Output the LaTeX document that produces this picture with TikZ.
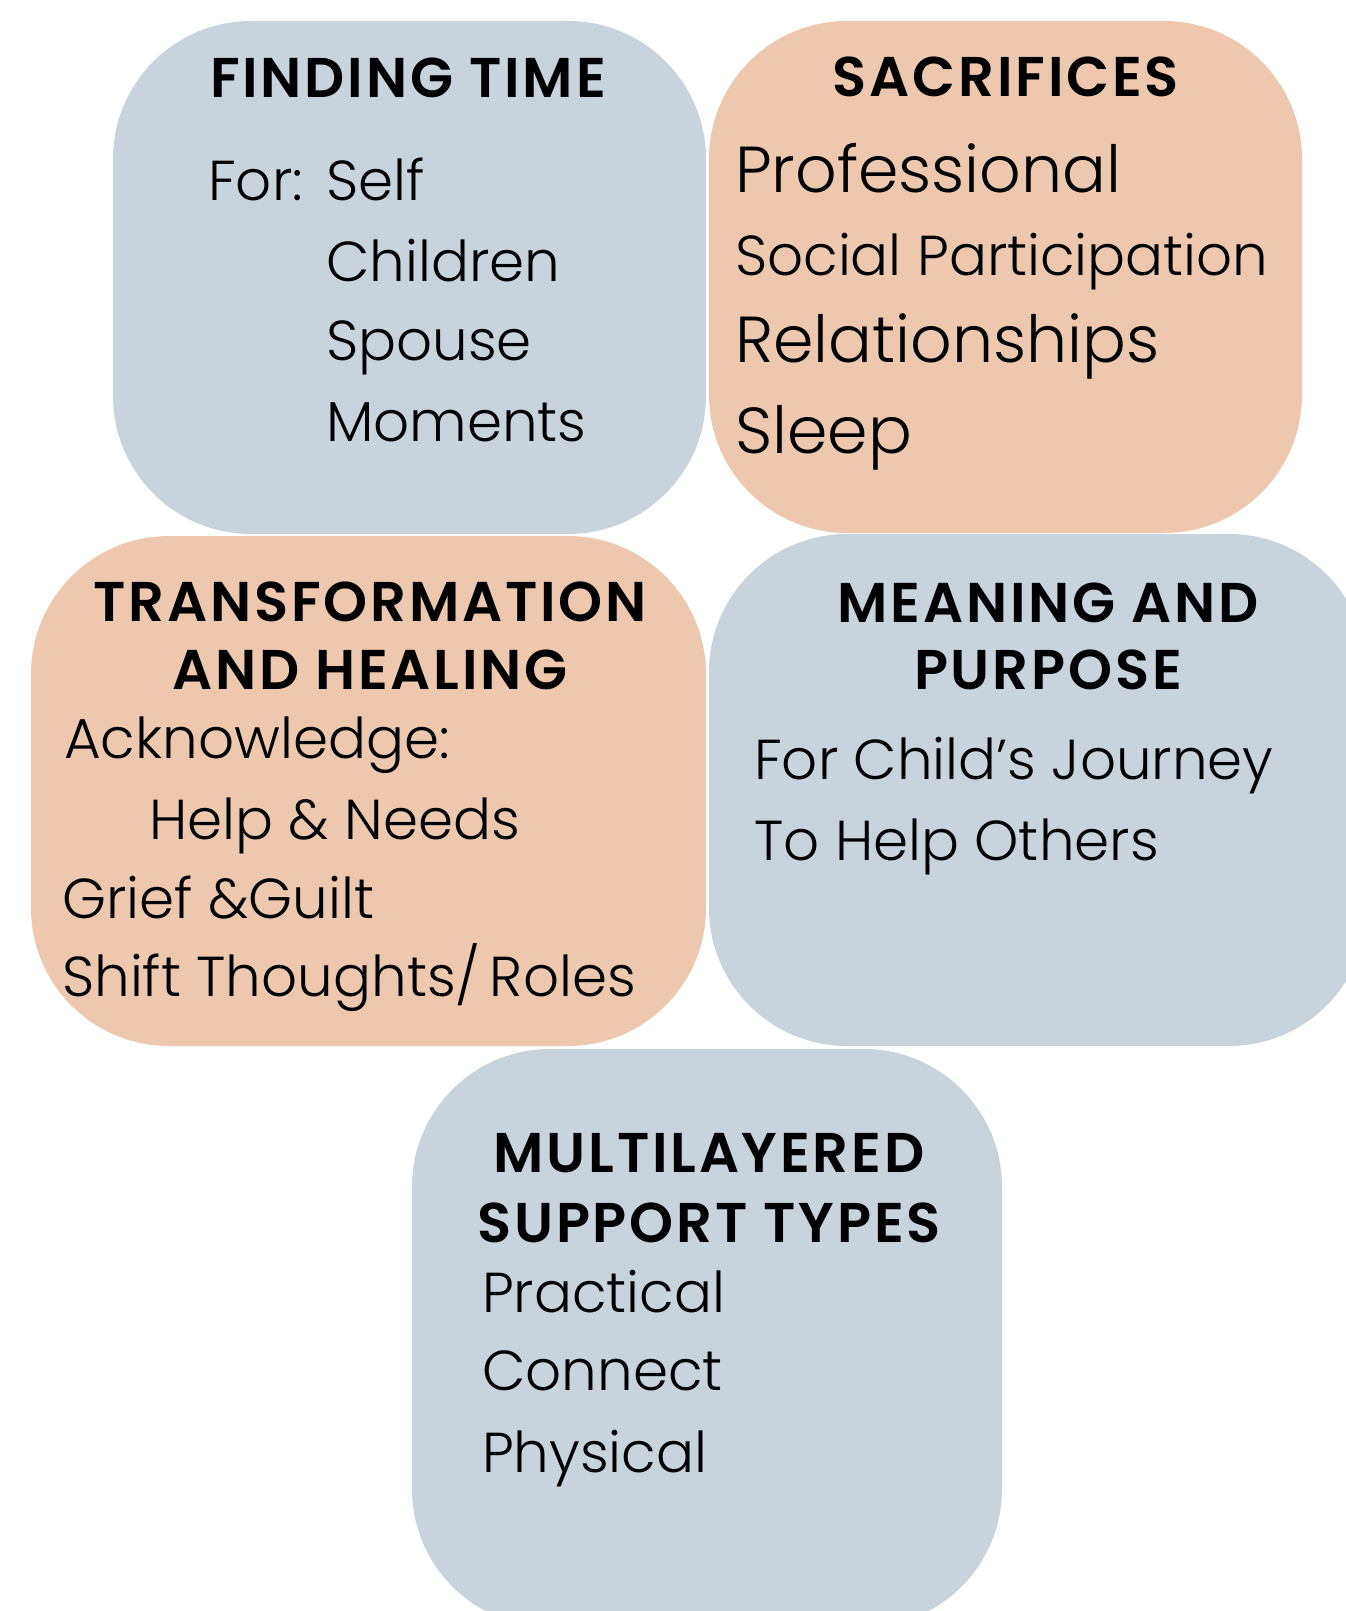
\documentclass[tikz,border=0pt]{standalone}
\usepackage{fontspec}
\setmainfont{Poppins Light}
\newfontfamily\myhdfamily{Poppins SemiBold}[LetterSpace=5]
\definecolor{boxblue}{RGB}{200,211,220}
\definecolor{boxpeach}{RGB}{238,200,174}
\newcommand\myhdfont{\myhdfamily\fontsize{56bp}{60bp}\selectfont}
\newcommand\mybodyfont{\fontsize{56.3bp}{60bp}\selectfont}
\newcommand\mybigfont{\fontsize{65bp}{70bp}\selectfont}
\newcommand\mymidfont{\fontsize{56.3bp}{60bp}\selectfont}
\begin{document}
\begin{tikzpicture}[x=1bp,y=-1bp,
  cardblue/.style={fill=boxblue, rounded corners=138bp},
  cardpeach/.style={fill=boxpeach, rounded corners=138bp},
  head/.style={font=\myhdfont, anchor=base, inner sep=0pt, text=black},
  body/.style={font=\mybodyfont, anchor=base west, inner sep=0pt, text=black},
  bigbody/.style={body, font=\mybigfont},
  midbody/.style={body, font=\mymidfont}]
\useasboundingbox (0,0) rectangle (1346,1611);
\clip (0,0) rectangle (1346,1611);
% cards
\fill[cardblue]  (113,21)  rectangle (706,534);
\fill[cardpeach] (709,21)  rectangle (1302,533);
\fill[cardpeach] (31,536)  rectangle (706,1046);
\fill[cardblue]  (709,534) rectangle (1367,1046);
\fill[cardblue]  (412,1049) rectangle (1002,1627);
% Finding time
\node[head] (ft) at (408,97) {FINDING TIME};
\node[body] (ftfor) at (208,200) {For:};
\node[body] (ftself) at (326,200) {Self};
\node[body] (ftchild) at (326,281) {Children};
\node[body] (ftspouse) at (326,360) {Spouse};
\node[body] (ftmom) at (326,441) {Moments};
% Sacrifices
\node[head] (sc) at (1006,96) {SACRIFICES};
\node[bigbody] (scprof) at (735,192) {Professional};
\node[midbody] (scsoc) at (735,275) {Social Participation};
\node[bigbody] (screl) at (735,362) {Relationships};
\node[bigbody] (scsleep) at (735,453) {Sleep};
% Transformation
\node[head] (tr1) at (370,621) {TRANSFORMATION};
\node[head] (tr2) at (370,689) {AND HEALING};
\node[body] (track) at (64,758) {Acknowledge:};
\node[body] (trhelp) at (149,839) {Help \& Needs};
\node[body] (trgrief) at (62,918) {Grief \&Guilt};
\node[body] (trshift) at (62,996) {Shift Thoughts/\,Roles};
% Meaning
\node[head] (mp1) at (1048,622) {MEANING AND};
\node[head] (mp2) at (1048,689) {PURPOSE};
\node[body] (mpchild) at (754,779) {For Child’s Journey};
\node[body] (mphelp) at (754,860) {To Help Others};
% Multilayered
\node[head] (ml1) at (709,1172) {MULTILAYERED};
\node[head] (ml2) at (709,1242) {SUPPORT TYPES};
\node[midbody] (mlprac) at (482,1312) {Practical};
\node[midbody] (mlconn) at (482,1390) {Connect};
\node[midbody] (mlphys) at (482,1472) {Physical};
\end{tikzpicture}
\end{document}
